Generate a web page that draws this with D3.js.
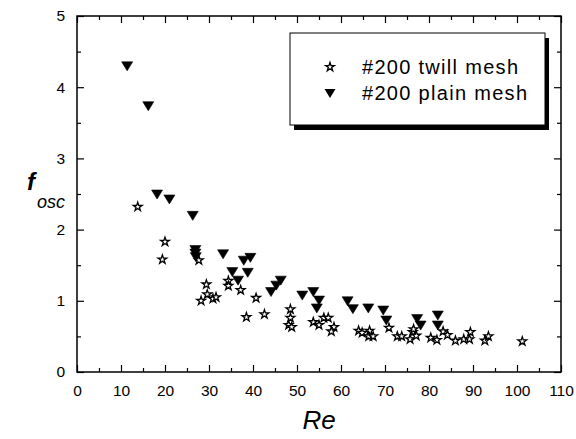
<!DOCTYPE html>
<html><head><meta charset="utf-8">
<script src="https://cdn.jsdelivr.net/npm/d3@7"></script>
<style>body{margin:0;background:#fff}svg{display:block}text{font-family:"Liberation Sans",Arial,sans-serif;fill:#000}</style>
</head><body><svg id="c" width="576" height="439"></svg>
<script>
const twillRe = [13.8,19.4,20.0,27.7,28.2,29.4,29.6,30.9,31.6,34.4,34.4,37.2,38.5,40.7,42.6,48.5,48.5,48.1,48.8,53.7,55.0,56.1,57.1,58.4,57.8,64.0,64.8,66.5,66.3,67.3,70.9,72.8,73.8,75.7,76.3,76.5,77.1,80.4,81.8,83.2,84.2,86.0,87.9,89.2,89.4,92.7,93.5,101.2];
const twillF  = [2.32,1.58,1.83,1.57,1.00,1.23,1.09,1.03,1.05,1.28,1.21,1.15,0.77,1.04,0.81,0.88,0.76,0.66,0.63,0.70,0.66,0.76,0.76,0.63,0.57,0.58,0.55,0.58,0.50,0.50,0.62,0.50,0.50,0.46,0.56,0.60,0.51,0.48,0.45,0.57,0.52,0.44,0.46,0.46,0.56,0.44,0.50,0.43];
const plainRe = [11.4,16.2,18.2,21.0,26.3,26.9,26.9,27.0,33.2,35.3,36.6,37.9,38.8,39.4,44.1,45.3,46.3,51.2,53.7,55.0,54.5,61.5,62.7,66.2,69.6,70.3,77.3,78.1,82.0,82.0];
const plainF  = [4.30,3.74,2.50,2.43,2.20,1.72,1.67,1.62,1.66,1.41,1.29,1.57,1.40,1.61,1.13,1.22,1.29,1.08,1.13,1.01,0.90,1.00,0.89,0.90,0.87,0.73,0.75,0.66,0.80,0.66];
const xTicks = [0,10,20,30,40,50,60,70,80,90,100,110];
const yTicks = [0,1,2,3,4,5];
const legendLabels = ["#200 twill mesh","#200 plain mesh"];

const svg = d3.select("#c");
const L=77, R=561, T=16, B=372;
const x = d3.scaleLinear().domain([0,110]).range([L,R]);
const y = d3.scaleLinear().domain([0,5]).range([B,T]);
const fmt = d3.format("d");

const g = svg.append("g");
g.append("rect").attr("x",L).attr("y",T).attr("width",R-L).attr("height",B-T)
 .attr("fill","none").attr("stroke","#000").attr("stroke-width",1.5);

const xMinor = d3.range(5,110,10);
const yMinor = d3.range(0.5,5,1);
const FONT = "Liberation Sans, Arial, sans-serif";
const axB = g.append("g").attr("transform",`translate(0,${B})`)
  .call(d3.axisBottom(x).tickValues(xTicks).tickFormat(fmt).tickSizeInner(-7).tickSizeOuter(0).tickPadding(13));
axB.select(".domain").remove();
axB.selectAll("text").attr("font-size",15.5).attr("font-family",FONT);
axB.selectAll("line").attr("stroke-width",1.2);
g.append("g").attr("transform",`translate(0,${B})`)
  .call(d3.axisBottom(x).tickValues(xMinor).tickSizeInner(-4).tickSizeOuter(0).tickFormat(""))
  .call(a=>a.select(".domain").remove()).selectAll("line").attr("stroke-width",1.2);
g.append("g").attr("transform",`translate(0,${T})`)
  .call(d3.axisTop(x).tickValues(xTicks).tickSizeInner(-7).tickSizeOuter(0).tickFormat(""))
  .call(a=>a.select(".domain").remove()).selectAll("line").attr("stroke-width",1.2);
g.append("g").attr("transform",`translate(0,${T})`)
  .call(d3.axisTop(x).tickValues(xMinor).tickSizeInner(-4).tickSizeOuter(0).tickFormat(""))
  .call(a=>a.select(".domain").remove()).selectAll("line").attr("stroke-width",1.2);
const axL = g.append("g").attr("transform",`translate(${L},0)`)
  .call(d3.axisLeft(y).tickValues(yTicks).tickFormat(fmt).tickSizeInner(-7).tickSizeOuter(0).tickPadding(12));
axL.select(".domain").remove();
axL.selectAll("text").attr("font-size",15.5).attr("font-family",FONT);
axL.selectAll("line").attr("stroke-width",1.2);
g.append("g").attr("transform",`translate(${L},0)`)
  .call(d3.axisLeft(y).tickValues(yMinor).tickSizeInner(-4).tickSizeOuter(0).tickFormat(""))
  .call(a=>a.select(".domain").remove()).selectAll("line").attr("stroke-width",1.2);
g.append("g").attr("transform",`translate(${R},0)`)
  .call(d3.axisRight(y).tickValues(yTicks).tickSizeInner(-7).tickSizeOuter(0).tickFormat(""))
  .call(a=>a.select(".domain").remove()).selectAll("line").attr("stroke-width",1.2);
g.append("g").attr("transform",`translate(${R},0)`)
  .call(d3.axisRight(y).tickValues(yMinor).tickSizeInner(-4).tickSizeOuter(0).tickFormat(""))
  .call(a=>a.select(".domain").remove()).selectAll("line").attr("stroke-width",1.2);

svg.append("text").attr("x",x(55)).attr("y",429).attr("text-anchor","middle")
  .attr("font-size",26).attr("font-style","italic").text("Re");
svg.append("text").attr("x",27).attr("y",190).attr("font-size",24)
  .attr("font-style","italic").attr("font-weight","bold").text("f");
svg.append("text").attr("x",37).attr("y",208).attr("font-size",18)
  .attr("font-style","italic").text("osc");

const star = d3.symbol().type(d3.symbolStar).size(24);
const tri = "M-5.5,-4L5.5,-4L0,5Z";
const plain = plainRe.map((r,i)=>({r, f:plainF[i]}));
const twill = twillRe.map((r,i)=>({r, f:twillF[i]}));
svg.append("g").selectAll("path").data(plain).join("path")
  .attr("d",tri).attr("transform",d=>`translate(${x(d.r)},${y(d.f)})`)
  .attr("fill","#000").attr("stroke","#000").attr("stroke-width",0.6);
svg.append("g").selectAll("path").data(twill).join("path")
  .attr("d",star).attr("transform",d=>`translate(${x(d.r)},${y(d.f)})`)
  .attr("fill","#fff").attr("stroke","#000").attr("stroke-width",1.3);

const lg = svg.append("g");
lg.append("rect").attr("x",294).attr("y",38).attr("width",255).attr("height",92).attr("fill","#000");
lg.append("rect").attr("x",290).attr("y",33).attr("width",255).attr("height",92)
  .attr("fill","#fff").attr("stroke","#000").attr("stroke-width",1);
lg.append("path").attr("d",star).attr("transform","translate(330,67)")
  .attr("fill","#fff").attr("stroke","#000").attr("stroke-width",1.3);
lg.append("path").attr("d",tri).attr("transform","translate(330,93)").attr("fill","#000");
lg.append("text").attr("x",362).attr("y",74).attr("font-size",20).attr("textLength",156).text(legendLabels[0]);
lg.append("text").attr("x",362).attr("y",100).attr("font-size",20).attr("textLength",165).text(legendLabels[1]);
</script></body></html>
